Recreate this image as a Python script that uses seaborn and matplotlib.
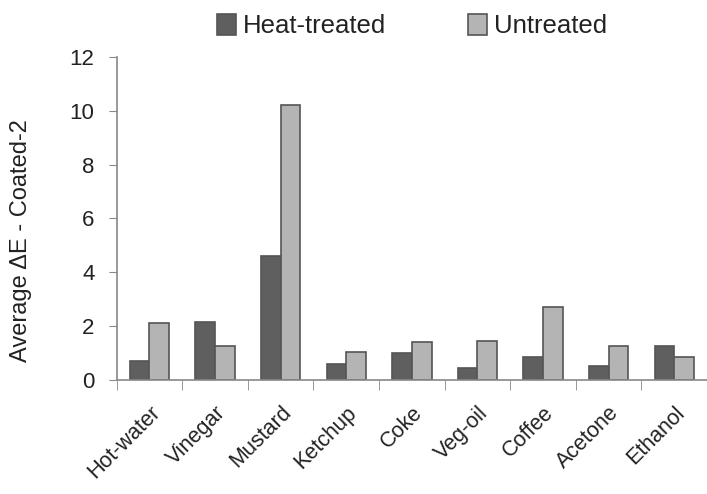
import pandas as pd
import matplotlib
matplotlib.use('Agg')
import matplotlib.pyplot as plt
import seaborn as sns
import numpy as np

# Data
categories = ['Hot-water', 'Vinegar', 'Mustard', 'Ketchup', 'Coke',
              'Veg-oil', 'Coffee', 'Acetone', 'Ethanol']
heat_treated = [0.7, 2.15, 4.6, 0.6, 1.0, 0.45, 0.85, 0.5, 1.25]
untreated = [2.1, 1.25, 10.2, 1.05, 1.4, 1.45, 2.7, 1.25, 0.85]
series_names = ['Heat-treated', 'Untreated']


def main():
    df = pd.DataFrame({
        'Solvent': categories * 2,
        'Treatment': [series_names[0]] * len(categories) + [series_names[1]] * len(categories),
        'dE': heat_treated + untreated,
    })

    sns.set_style('white')
    plt.rcParams['font.family'] = ['Liberation Sans', 'DejaVu Sans']

    fig = plt.figure(figsize=(7.07, 4.94), dpi=100)
    ax = fig.add_axes([0.165, 0.231, 0.835, 0.654])

    sns.barplot(data=df, x='Solvent', y='dE', hue='Treatment',
                order=categories, hue_order=series_names,
                palette=['#5f5f5f', '#b4b4b4'], width=0.6,
                edgecolor='#555555', linewidth=1.2, saturation=1,
                ax=ax)

    ax.set_xlim(-0.5, len(categories) - 0.5)
    ax.set_ylim(0, 12)
    ax.set_yticks(range(0, 13, 2))
    ax.set_xlabel('')
    ax.set_ylabel('Average ΔE - Coated-2', fontsize=17, color='#222222')
    ax.yaxis.set_label_coords(-0.143, 0.43)

    # labels at centres, tick marks at category boundaries
    ax.set_xticks(range(len(categories)))
    ax.set_xticklabels(categories, rotation=45, ha='right', rotation_mode='anchor',
                       fontsize=15.5, color='#222222')
    ax.tick_params(axis='x', which='major', length=0, pad=16)
    ax.set_xticks(np.arange(-0.5, len(categories), 1), minor=True)
    ax.tick_params(axis='x', which='minor', length=7, color='#888888', direction='out', bottom=True)
    ax.tick_params(axis='y', length=6, color='#888888', direction='out', labelsize=16,
                   labelcolor='#222222', pad=10, left=True)

    for side in ['top', 'right']:
        ax.spines[side].set_visible(False)
    for side in ['left', 'bottom']:
        ax.spines[side].set_color('#888888')
        ax.spines[side].set_linewidth(1.2)

    ax.legend(loc='lower center', bbox_to_anchor=(0.5, 1.025), ncol=2, frameon=False,
              fontsize=18.5, handlelength=0.75, handleheight=0.85, handletextpad=0.25,
              columnspacing=3.2, borderaxespad=0, labelcolor='#222222')

    fig.savefig('out.png', dpi=100)


if __name__ == "__main__":
    main()
